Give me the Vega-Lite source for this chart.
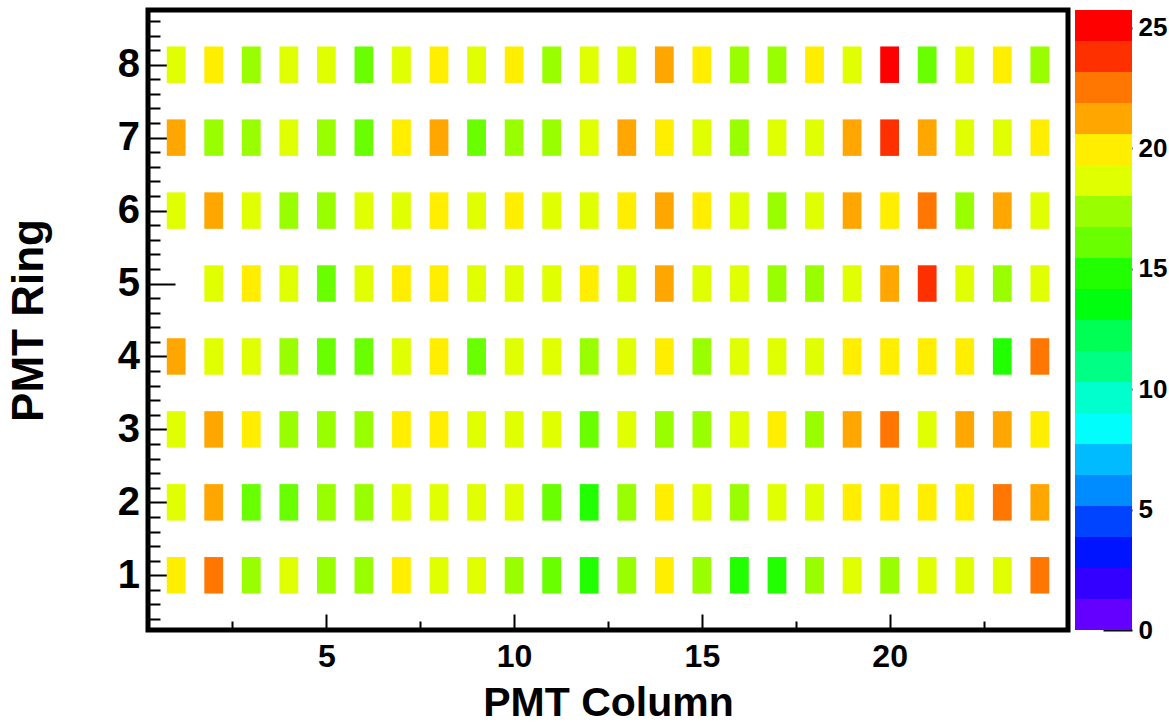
{
  "$schema": "https://vega.github.io/schema/vega-lite/v6.json",
  "background": "white",
  "padding": {"left": 4, "top": 7, "right": 0, "bottom": 0},
  "bounds": "flush",
  "spacing": 7,
  "config": {
    "font": "Liberation Sans",
    "axis": {
      "labelFont": "Liberation Sans", "titleFont": "Liberation Sans",
      "labelFontWeight": "bold", "titleFontWeight": "bold",
      "labelColor": "black", "titleColor": "black",
      "tickColor": "black", "tickWidth": 2,
      "domain": false, "grid": false, "zindex": 1,
      "labelOverlap": false, "labelFlush": false
    }
  },
  "resolve": {"scale": {"color": "shared"}},
  "datasets": {
    "cells": [
      {"ring":8,"col":1,"count":18.7},{"ring":8,"col":2,"count":19.8},{"ring":8,"col":3,"count":17.4},{"ring":8,"col":4,"count":18.6},{"ring":8,"col":5,"count":18.9},{"ring":8,"col":6,"count":16.2},{"ring":8,"col":7,"count":18.5},{"ring":8,"col":8,"count":19.7},{"ring":8,"col":9,"count":18.8},{"ring":8,"col":10,"count":19.9},{"ring":8,"col":11,"count":17.5},{"ring":8,"col":12,"count":18.6},{"ring":8,"col":13,"count":18.4},{"ring":8,"col":14,"count":21.2},{"ring":8,"col":15,"count":20.1},{"ring":8,"col":16,"count":17.6},{"ring":8,"col":17,"count":17.3},{"ring":8,"col":18,"count":19.6},{"ring":8,"col":19,"count":18.7},{"ring":8,"col":20,"count":25.73},{"ring":8,"col":21,"count":16.1},{"ring":8,"col":22,"count":18.8},{"ring":8,"col":23,"count":19.9},{"ring":8,"col":24,"count":17.4},
      {"ring":7,"col":1,"count":21.3},{"ring":7,"col":2,"count":17.5},{"ring":7,"col":3,"count":17.2},{"ring":7,"col":4,"count":18.6},{"ring":7,"col":5,"count":17.6},{"ring":7,"col":6,"count":16.3},{"ring":7,"col":7,"count":20.0},{"ring":7,"col":8,"count":21.1},{"ring":7,"col":9,"count":16.0},{"ring":7,"col":10,"count":17.4},{"ring":7,"col":11,"count":17.7},{"ring":7,"col":12,"count":18.5},{"ring":7,"col":13,"count":21.4},{"ring":7,"col":14,"count":19.8},{"ring":7,"col":15,"count":18.9},{"ring":7,"col":16,"count":17.3},{"ring":7,"col":17,"count":18.4},{"ring":7,"col":18,"count":18.7},{"ring":7,"col":19,"count":21.0},{"ring":7,"col":20,"count":23.9},{"ring":7,"col":21,"count":21.3},{"ring":7,"col":22,"count":18.6},{"ring":7,"col":23,"count":18.8},{"ring":7,"col":24,"count":19.7},
      {"ring":6,"col":1,"count":18.5},{"ring":6,"col":2,"count":21.2},{"ring":6,"col":3,"count":18.7},{"ring":6,"col":4,"count":17.3},{"ring":6,"col":5,"count":17.6},{"ring":6,"col":6,"count":18.4},{"ring":6,"col":7,"count":18.8},{"ring":6,"col":8,"count":19.9},{"ring":6,"col":9,"count":18.6},{"ring":6,"col":10,"count":19.7},{"ring":6,"col":11,"count":18.9},{"ring":6,"col":12,"count":18.5},{"ring":6,"col":13,"count":19.6},{"ring":6,"col":14,"count":21.4},{"ring":6,"col":15,"count":20.0},{"ring":6,"col":16,"count":18.7},{"ring":6,"col":17,"count":17.4},{"ring":6,"col":18,"count":18.6},{"ring":6,"col":19,"count":21.1},{"ring":6,"col":20,"count":19.8},{"ring":6,"col":21,"count":22.6},{"ring":6,"col":22,"count":17.5},{"ring":6,"col":23,"count":21.2},{"ring":6,"col":24,"count":18.8},
      {"ring":5,"col":2,"count":18.6},{"ring":5,"col":3,"count":19.9},{"ring":5,"col":4,"count":18.7},{"ring":5,"col":5,"count":16.2},{"ring":5,"col":6,"count":18.5},{"ring":5,"col":7,"count":19.8},{"ring":5,"col":8,"count":20.1},{"ring":5,"col":9,"count":18.9},{"ring":5,"col":10,"count":18.6},{"ring":5,"col":11,"count":18.4},{"ring":5,"col":12,"count":19.7},{"ring":5,"col":13,"count":18.8},{"ring":5,"col":14,"count":21.3},{"ring":5,"col":15,"count":18.7},{"ring":5,"col":16,"count":18.5},{"ring":5,"col":17,"count":17.5},{"ring":5,"col":18,"count":17.3},{"ring":5,"col":19,"count":18.6},{"ring":5,"col":20,"count":21.0},{"ring":5,"col":21,"count":23.8},{"ring":5,"col":22,"count":18.9},{"ring":5,"col":23,"count":17.6},{"ring":5,"col":24,"count":18.7},
      {"ring":4,"col":1,"count":21.2},{"ring":4,"col":2,"count":18.8},{"ring":4,"col":3,"count":18.5},{"ring":4,"col":4,"count":17.4},{"ring":4,"col":5,"count":16.1},{"ring":4,"col":6,"count":16.3},{"ring":4,"col":7,"count":18.7},{"ring":4,"col":8,"count":19.9},{"ring":4,"col":9,"count":16.0},{"ring":4,"col":10,"count":18.6},{"ring":4,"col":11,"count":18.9},{"ring":4,"col":12,"count":17.3},{"ring":4,"col":13,"count":18.5},{"ring":4,"col":14,"count":19.8},{"ring":4,"col":15,"count":17.6},{"ring":4,"col":16,"count":18.7},{"ring":4,"col":17,"count":18.4},{"ring":4,"col":18,"count":18.8},{"ring":4,"col":19,"count":20.0},{"ring":4,"col":20,"count":19.7},{"ring":4,"col":21,"count":19.9},{"ring":4,"col":22,"count":19.6},{"ring":4,"col":23,"count":14.8},{"ring":4,"col":24,"count":22.5},
      {"ring":3,"col":1,"count":18.6},{"ring":3,"col":2,"count":21.3},{"ring":3,"col":3,"count":19.8},{"ring":3,"col":4,"count":17.5},{"ring":3,"col":5,"count":17.3},{"ring":3,"col":6,"count":17.6},{"ring":3,"col":7,"count":19.9},{"ring":3,"col":8,"count":20.1},{"ring":3,"col":9,"count":18.7},{"ring":3,"col":10,"count":18.5},{"ring":3,"col":11,"count":18.9},{"ring":3,"col":12,"count":16.2},{"ring":3,"col":13,"count":18.6},{"ring":3,"col":14,"count":17.4},{"ring":3,"col":15,"count":17.7},{"ring":3,"col":16,"count":18.8},{"ring":3,"col":17,"count":19.7},{"ring":3,"col":18,"count":17.5},{"ring":3,"col":19,"count":21.1},{"ring":3,"col":20,"count":22.7},{"ring":3,"col":21,"count":18.6},{"ring":3,"col":22,"count":21.4},{"ring":3,"col":23,"count":21.0},{"ring":3,"col":24,"count":19.8},
      {"ring":2,"col":1,"count":18.7},{"ring":2,"col":2,"count":21.2},{"ring":2,"col":3,"count":16.1},{"ring":2,"col":4,"count":16.3},{"ring":2,"col":5,"count":17.4},{"ring":2,"col":6,"count":17.6},{"ring":2,"col":7,"count":18.5},{"ring":2,"col":8,"count":18.8},{"ring":2,"col":9,"count":18.6},{"ring":2,"col":10,"count":18.4},{"ring":2,"col":11,"count":16.2},{"ring":2,"col":12,"count":14.9},{"ring":2,"col":13,"count":17.3},{"ring":2,"col":14,"count":19.9},{"ring":2,"col":15,"count":18.7},{"ring":2,"col":16,"count":17.5},{"ring":2,"col":17,"count":18.9},{"ring":2,"col":18,"count":18.6},{"ring":2,"col":19,"count":19.8},{"ring":2,"col":20,"count":20.0},{"ring":2,"col":21,"count":19.7},{"ring":2,"col":22,"count":19.9},{"ring":2,"col":23,"count":22.4},{"ring":2,"col":24,"count":21.3},
      {"ring":1,"col":1,"count":19.8},{"ring":1,"col":2,"count":22.6},{"ring":1,"col":3,"count":17.4},{"ring":1,"col":4,"count":18.6},{"ring":1,"col":5,"count":17.6},{"ring":1,"col":6,"count":17.3},{"ring":1,"col":7,"count":19.9},{"ring":1,"col":8,"count":18.7},{"ring":1,"col":9,"count":18.5},{"ring":1,"col":10,"count":17.5},{"ring":1,"col":11,"count":16.2},{"ring":1,"col":12,"count":14.8},{"ring":1,"col":13,"count":17.4},{"ring":1,"col":14,"count":20.0},{"ring":1,"col":15,"count":17.6},{"ring":1,"col":16,"count":14.9},{"ring":1,"col":17,"count":14.7},{"ring":1,"col":18,"count":17.3},{"ring":1,"col":19,"count":18.8},{"ring":1,"col":20,"count":17.5},{"ring":1,"col":21,"count":18.6},{"ring":1,"col":22,"count":18.9},{"ring":1,"col":23,"count":18.5},{"ring":1,"col":24,"count":22.5}
    ],
    "bands": [
      {"lo":0,"hi":1.2865,"mid":0.643},{"lo":1.2865,"hi":2.573,"mid":1.93},{"lo":2.573,"hi":3.8595,"mid":3.216},{"lo":3.8595,"hi":5.146,"mid":4.503},{"lo":5.146,"hi":6.4325,"mid":5.789},{"lo":6.4325,"hi":7.719,"mid":7.076},{"lo":7.719,"hi":9.0055,"mid":8.362},{"lo":9.0055,"hi":10.292,"mid":9.649},{"lo":10.292,"hi":11.5785,"mid":10.935},{"lo":11.5785,"hi":12.865,"mid":12.222},{"lo":12.865,"hi":14.1515,"mid":13.508},{"lo":14.1515,"hi":15.438,"mid":14.795},{"lo":15.438,"hi":16.7245,"mid":16.081},{"lo":16.7245,"hi":18.011,"mid":17.368},{"lo":18.011,"hi":19.2975,"mid":18.654},{"lo":19.2975,"hi":20.584,"mid":19.941},{"lo":20.584,"hi":21.8705,"mid":21.227},{"lo":21.8705,"hi":23.157,"mid":22.514},{"lo":23.157,"hi":24.4435,"mid":23.8},{"lo":24.4435,"hi":25.73,"mid":25.087}
    ]
  },
  "hconcat": [
    {
      "width": 920,
      "height": 620,
      "view": {"stroke": "black", "strokeWidth": 5},
      "data": {"name": "cells"},
      "mark": {"type": "point", "shape": "M-0.515,-1L0.515,-1L0.515,1L-0.515,1Z", "filled": true, "size": 1332, "opacity": 1, "strokeWidth": 0},
      "encoding": {
        "x": {
          "field": "col", "type": "quantitative",
          "scale": {"domain": [0.25, 24.75], "nice": false, "zero": false},
          "axis": {
            "title": "PMT Column",
            "values": [2.5, 5, 7.5, 10, 12.5, 15, 17.5, 20, 22.5],
            "labelExpr": "datum.value % 5 === 0 ? format(datum.value, 'd') : ''",
            "tickSize": {"condition": {"test": "datum.value % 5 === 0", "value": -16}, "value": -9},
            "labelFontSize": 32, "labelPadding": 27,
            "titleFontSize": 41, "titlePadding": 4
          }
        },
        "y": {
          "field": "ring", "type": "quantitative",
          "scale": {"domain": [0.25, 8.75], "nice": false, "zero": false},
          "axis": {
            "title": "PMT Ring",
            "values": [0.4,0.6,0.8,1,1.2,1.4,1.6,1.8,2,2.2,2.4,2.6,2.8,3,3.2,3.4,3.6,3.8,4,4.2,4.4,4.6,4.8,5,5.2,5.4,5.6,5.8,6,6.2,6.4,6.6,6.8,7,7.2,7.4,7.6,7.8,8,8.2,8.4,8.6],
            "labelExpr": "abs(datum.value - round(datum.value)) < 0.001 ? format(datum.value, 'd') : ''",
            "tickSize": {"condition": {"test": "abs(datum.value - round(datum.value)) < 0.001", "value": -27}, "value": -12},
            "labelFontSize": {"condition": {"test": "abs(datum.value - round(datum.value)) < 0.001", "value": 40}, "value": 1},
            "labelPadding": 35.5,
            "titleFontSize": 44, "titlePadding": 66
          }
        },
        "color": {
          "field": "count", "type": "quantitative",
          "scale": {"type": "quantize", "domain": [0, 25.73], "range": ["#6300FF","#3300FF","#0014FF","#0044FF","#008BFF","#00BBFF","#00FFFC","#00FFCC","#00FF85","#00FF55","#00FF0E","#22FF00","#69FF00","#99FF00","#E0FF00","#FFEE00","#FFA700","#FF7700","#FF3000","#FF0000"]},
          "legend": null
        }
      }
    },
    {
      "width": 57,
      "height": 620,
      "view": {"stroke": null},
      "data": {"name": "bands"},
      "mark": {"type": "rect"},
      "encoding": {
        "y": {
          "field": "lo", "type": "quantitative",
          "scale": {"domain": [0, 25.73], "nice": false, "zero": false},
          "axis": {
            "orient": "right", "title": null,
            "values": [0, 5, 10, 15, 20, 25],
            "tickSize": -29, "labelFontSize": 26, "labelPadding": 35
          }
        },
        "y2": {"field": "hi"},
        "color": {
          "field": "mid", "type": "quantitative",
          "scale": {"type": "quantize", "domain": [0, 25.73], "range": ["#6300FF","#3300FF","#0014FF","#0044FF","#008BFF","#00BBFF","#00FFFC","#00FFCC","#00FF85","#00FF55","#00FF0E","#22FF00","#69FF00","#99FF00","#E0FF00","#FFEE00","#FFA700","#FF7700","#FF3000","#FF0000"]},
          "legend": null
        }
      }
    }
  ]
}
